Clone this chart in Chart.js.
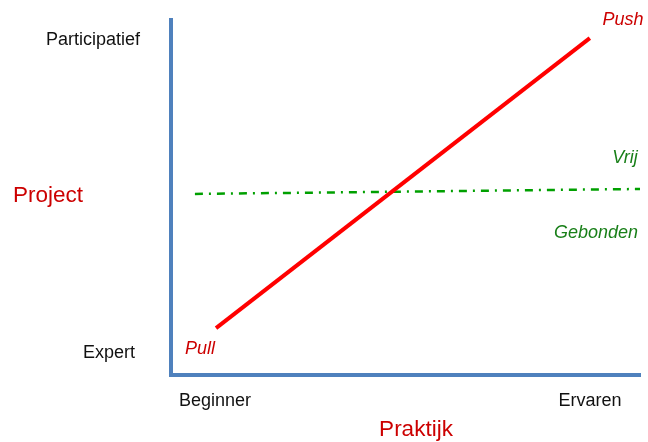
<!DOCTYPE html>
<html>
<head>
<meta charset="utf-8">
<script src="https://cdn.jsdelivr.net/npm/chart.js@4"></script>
<style>
  html, body { margin: 0; padding: 0; background: #fff; }
  #wrap { width: 648px; height: 442px; }
</style>
</head>
<body>
<div id="wrap"><canvas id="chart" width="648" height="442"></canvas></div>
<script>
// line end points, in axis units (0..10 on both axes)
const pushPullX = [0.96, 8.93];
const pushPullY = [1.32, 9.49];
const vrijX = [0.51, 10];
const vrijY = [5.10, 5.24];

const xEnds = ["Beginner", "Ervaren"];
const yEnds = ["Expert", "Participatief"];
const xTitle = "Praktijk";
const yTitle = "Project";

const font = "Liberation Sans, Arial, sans-serif";
const red = "#cc0000";
const green = "#187f18";

const labelsPlugin = {
  id: "labels",
  afterDraw(chart) {
    const ctx = chart.ctx;
    const text = (str, x, y, size, color, italic) => {
      ctx.save();
      ctx.font = `${italic ? "italic " : ""}${size}px ${font}`;
      ctx.fillStyle = color;
      ctx.textAlign = "center";
      ctx.textBaseline = "middle";
      ctx.fillText(str, x, y);
      ctx.restore();
    };
    text(yEnds[1], 93, 40, 18, "#111", false);
    text(yEnds[0], 109, 353, 18, "#111", false);
    text(xEnds[0], 215, 401, 18, "#111", false);
    text(xEnds[1], 590, 401, 18, "#111", false);
    text(yTitle, 48, 196, 22.5, red, false);
    text(xTitle, 416, 430, 22.5, red, false);
    text("Pull", 200, 349, 18, red, true);
    text("Push", 623, 20, 18, red, true);
    text("Vrij", 625, 158, 18, green, true);
    text("Gebonden", 596, 233, 18, green, true);
  }
};

const axis = (min, max) => ({
  type: "linear",
  min, max,
  ticks: { display: false },
  grid: { display: false, drawTicks: false },
  border: { display: true, color: "#4f81bd", width: 4 },
});

new Chart(document.getElementById("chart"), {
  type: "scatter",
  data: {
    datasets: [
      {
        data: pushPullX.map((x, i) => ({ x, y: pushPullY[i] })),
        showLine: true,
        borderColor: "#ff0000",
        borderWidth: 4,
        pointRadius: 0,
        clip: false,
      },
      {
        data: vrijX.map((x, i) => ({ x, y: vrijY[i] })),
        showLine: true,
        borderColor: "#00a000",
        borderWidth: 2.5,
        borderDash: [8, 6, 2, 6],
        pointRadius: 0,
        clip: false,
      },
    ],
  },
  options: {
    responsive: false,
    animation: false,
    layout: { padding: { left: 171, right: 8, top: 20, bottom: 67 } },
    plugins: { legend: { display: false }, tooltip: { enabled: false } },
    scales: { x: axis(0, 10), y: axis(0, 10) },
  },
  plugins: [labelsPlugin],
});
</script>
</body>
</html>
